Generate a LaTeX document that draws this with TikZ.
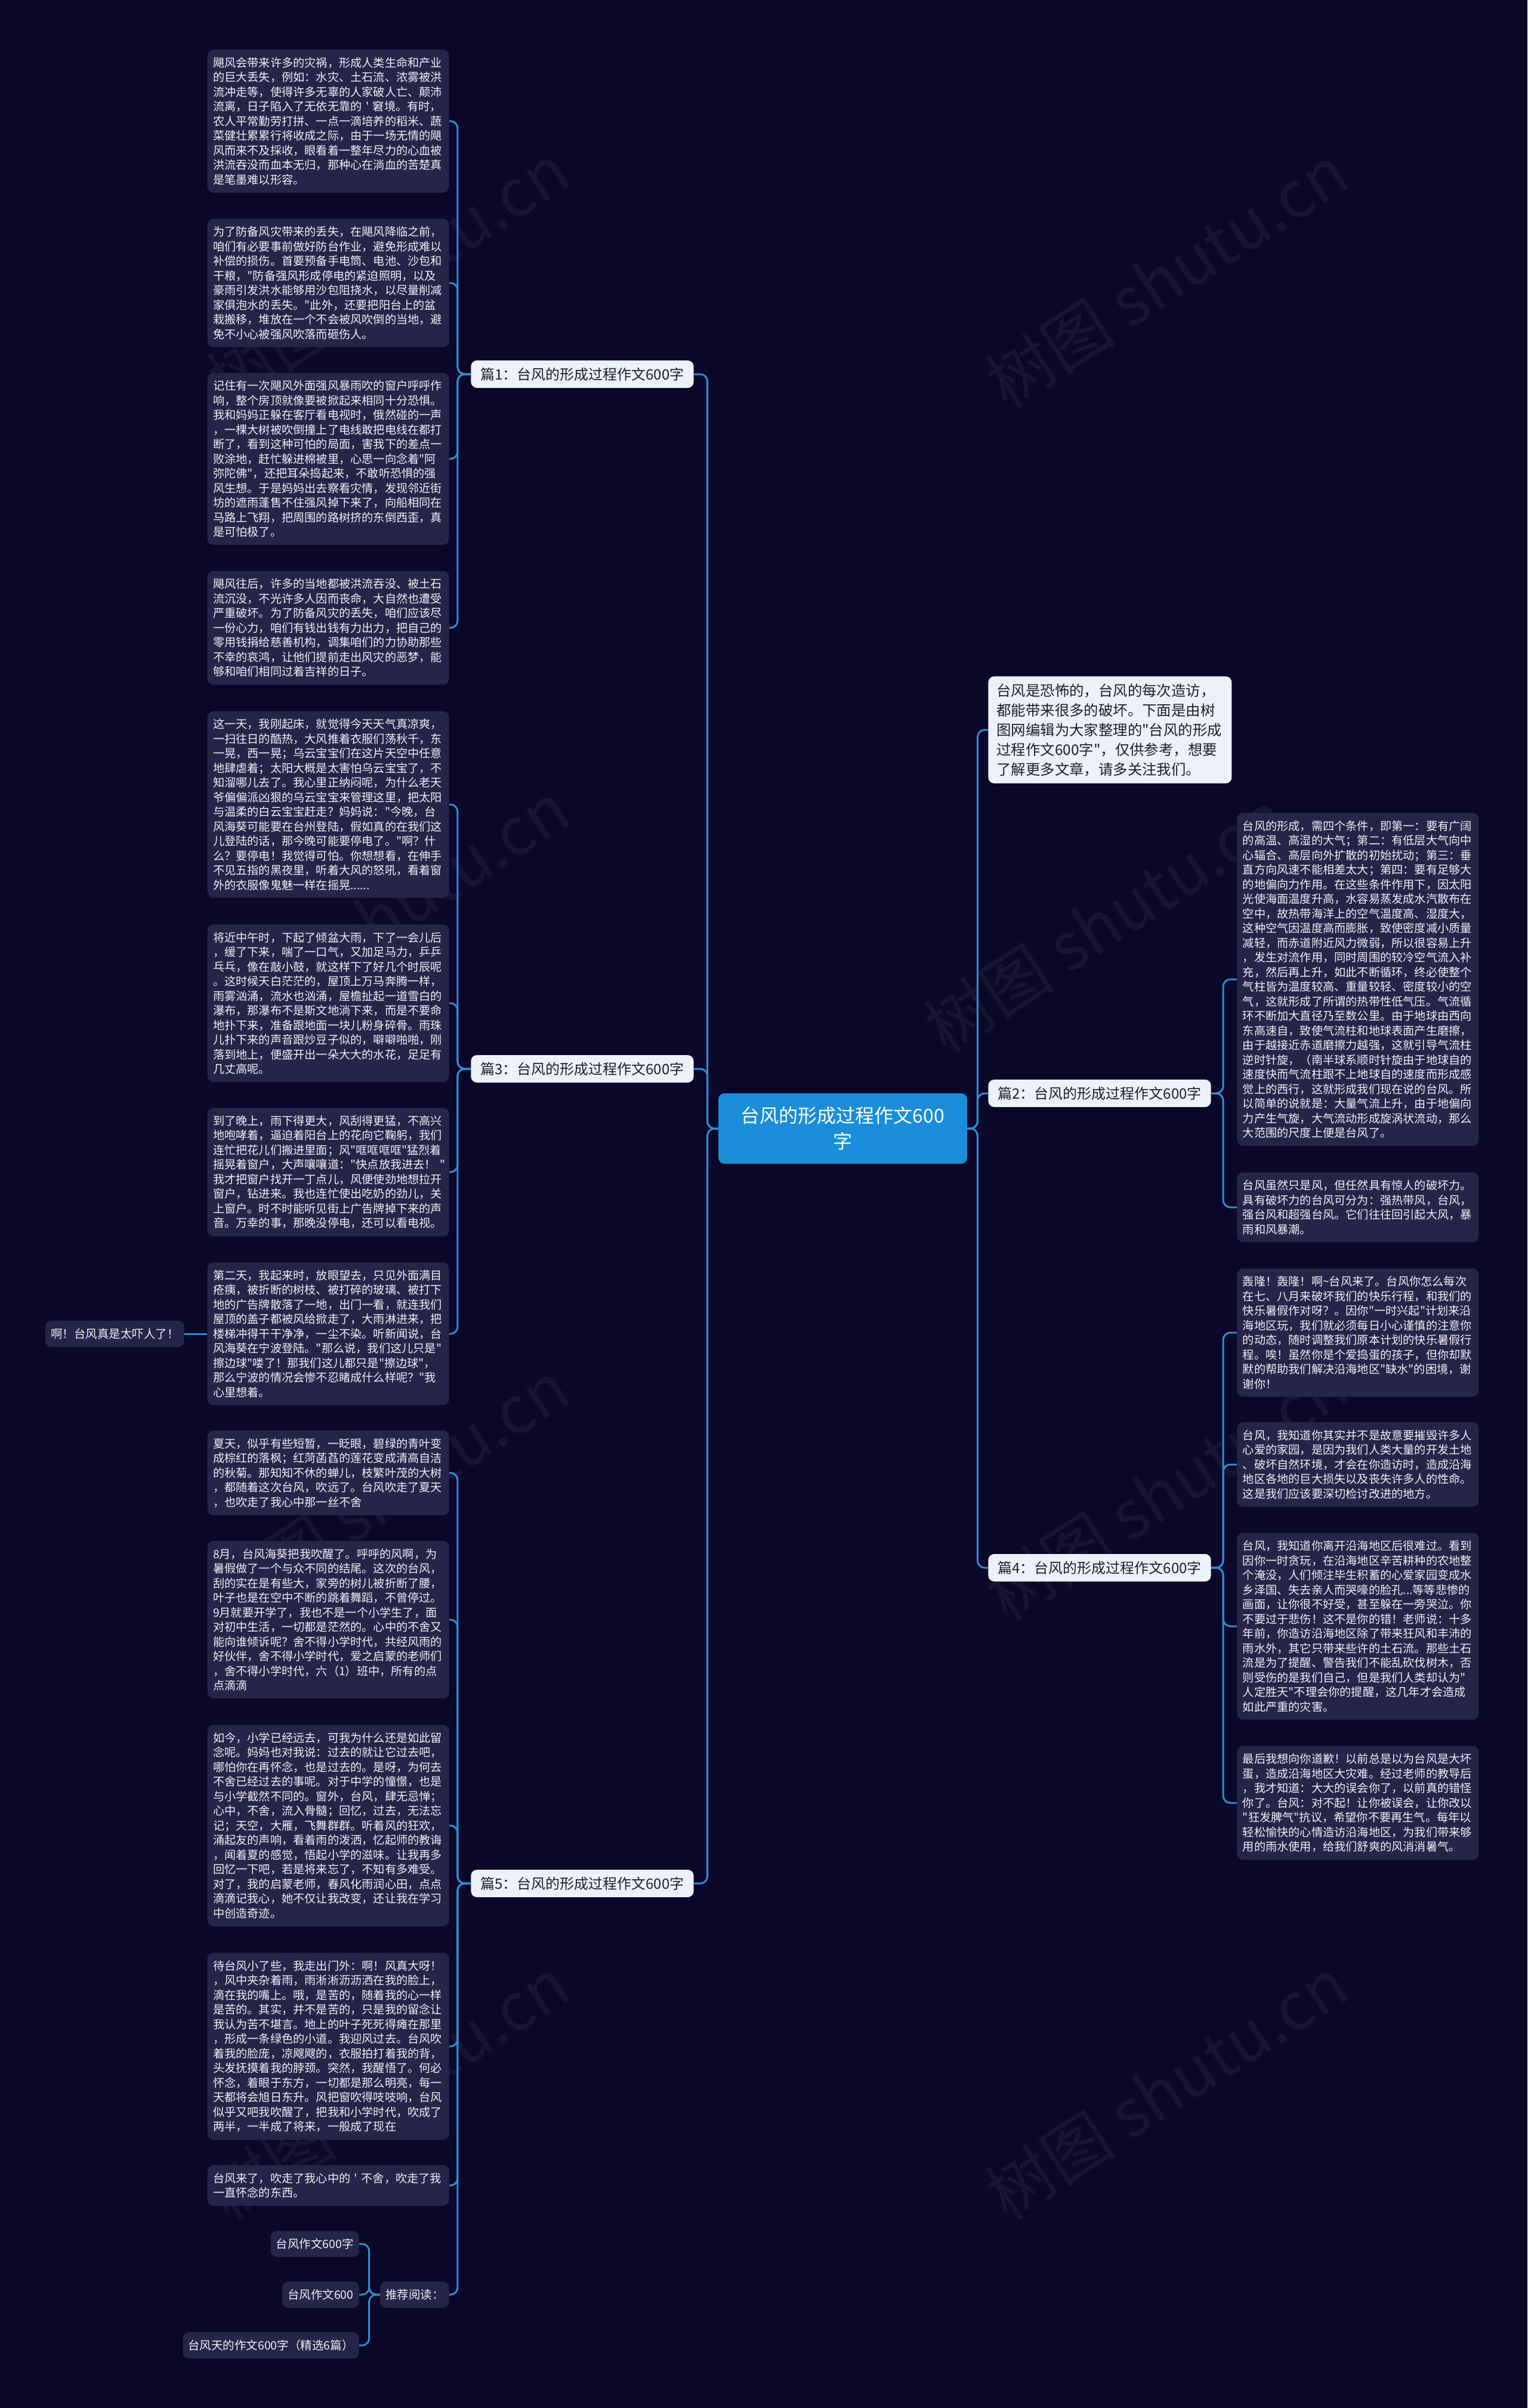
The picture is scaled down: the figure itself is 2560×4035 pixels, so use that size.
\documentclass[tikz,border=0pt]{standalone}
\usepackage{fontspec}
\setmainfont{Noto Sans CJK SC}[Ligatures=TeXOff]
\definecolor{bg}{HTML}{0A0729}
\definecolor{leaffill}{HTML}{262449}
\definecolor{leaftext}{HTML}{F2F2F7}
\definecolor{linec}{HTML}{2E8DD6}
\definecolor{rootfill}{HTML}{1A8DD8}
\definecolor{lightfill}{HTML}{EDF2FA}
\definecolor{darktext}{HTML}{1E1E2A}
\begin{document}
\begin{tikzpicture}[x=0.5pt,y=-0.5pt,
 leaf/.style={fill=leaffill, text=leaftext, rounded corners=5pt, text width=193pt, align=left, inner xsep=4.75pt, inner ysep=6.4pt, font=\fontsize{9.6pt}{12.25pt}\selectfont},
 small/.style={fill=leaffill, text=leaftext, rounded corners=5pt, inner xsep=4.5pt, minimum height=22pt, font=\fontsize{9.75pt}{12pt}\selectfont},
 lvl1/.style={fill=lightfill, text=darktext, rounded corners=5pt, inner xsep=8pt, minimum height=23pt, font=\fontsize{12pt}{15pt}\selectfont},
 intro/.style={fill=lightfill, text=darktext, rounded corners=5pt, text width=190pt, align=left, inner xsep=7pt, inner ysep=6pt, font=\fontsize{12.2pt}{16.5pt}\selectfont},
 rootn/.style={fill=rootfill, text=white, rounded corners=5pt, minimum width=208.5pt, minimum height=59pt, align=center, font=\fontsize{16pt}{21.5pt}\selectfont},
 conn/.style={draw=linec, line width=1.5pt, rounded corners=6pt},
 wm/.style={text=white, opacity=0.05, rotate=33, font=\fontsize{55pt}{55pt}\selectfont}
]
\fill[bg] (0,0) rectangle (2560,4035);
\useasboundingbox (0,0) rectangle (2560,4035);

% watermarks
\foreach \wx/\wy in {650/460, 1955/463, 650/1530, 1852/1544, 650/2500, 1955/2496, 650/3500, 1955/3499}
  \node[wm] at (\wx,\wy) {树图 shutu.cn};

% root
\node[rootn] (root) at (1412.5,1891) {台风的形成过程作文600\\字};

% level 1
\node[lvl1, anchor=east] (p1) at (1163,627) {篇1：台风的形成过程作文600字};
\node[lvl1, anchor=east] (p3) at (1163,1791) {篇3：台风的形成过程作文600字};
\node[lvl1, anchor=east] (p5) at (1163,3156) {篇5：台风的形成过程作文600字};
\node[intro, anchor=west] (intro) at (1656,1223) {台风是恐怖的，台风的每次造访，\\都能带来很多的破坏。下面是由树\\图网编辑为大家整理的"台风的形成\\过程作文600字"，仅供参考，想要\\了解更多文章，请多关注我们。};
\node[lvl1, anchor=west] (p2) at (1656,1832) {篇2：台风的形成过程作文600字};
\node[lvl1, anchor=west] (p4) at (1656,2627) {篇4：台风的形成过程作文600字};

% left leaves
\node[leaf, anchor=east] (l1) at (753,203) {飓风会带来许多的灾祸，形成人类生命和产业\\的巨大丢失，例如：水灾、土石流、浓雾被洪\\流冲走等，使得许多无辜的人家破人亡、颠沛\\流离，日子陷入了无依无靠的~'~窘境。有时，\\农人平常勤劳打拼、一点一滴培养的稻米、蔬\\菜健壮累累行将收成之际，由于一场无情的飓\\风而来不及採收，眼看着一整年尽力的心血被\\洪流吞没而血本无归，那种心在淌血的苦楚真\\是笔墨难以形容。};
\node[leaf, anchor=east] (l2) at (753,474) {为了防备风灾带来的丢失，在飓风降临之前，\\咱们有必要事前做好防台作业，避免形成难以\\补偿的损伤。首要预备手电筒、电池、沙包和\\干粮，"防备强风形成停电的紧迫照明，以及\\豪雨引发洪水能够用沙包阻挠水，以尽量削减\\家俱泡水的丢失。"此外，还要把阳台上的盆\\栽搬移，堆放在一个不会被风吹倒的当地，避\\免不小心被强风吹落而砸伤人。};
\node[leaf, anchor=east] (l3) at (753,769) {记住有一次飓风外面强风暴雨吹的窗户呼呼作\\响，整个房顶就像要被掀起来相同十分恐惧。\\我和妈妈正躲在客厅看电视时，俄然碰的一声\\，一棵大树被吹倒撞上了电线敢把电线在都打\\断了，看到这种可怕的局面，害我下的差点一\\败涂地，赶忙躲进棉被里，心思一向念着"阿\\弥陀佛"，还把耳朵捣起来，不敢听恐惧的强\\风生想。于是妈妈出去察看灾情，发现邻近街\\坊的遮雨蓬售不住强风掉下来了，向船相同在\\马路上飞翔，把周围的路树挤的东倒西歪，真\\是可怕极了。};
\node[leaf, anchor=east] (l4) at (753,1052) {飓风往后，许多的当地都被洪流吞没、被土石\\流沉没，不光许多人因而丧命，大自然也遭受\\严重破坏。为了防备风灾的丢失，咱们应该尽\\一份心力，咱们有钱出钱有力出力，把自己的\\零用钱捐给慈善机构，调集咱们的力协助那些\\不幸的哀鸿，让他们提前走出风灾的恶梦，能\\够和咱们相同过着吉祥的日子。};
\node[leaf, anchor=east] (l5) at (753,1348) {这一天，我刚起床，就觉得今天天气真凉爽，\\一扫往日的酷热，大风推着衣服们荡秋千，东\\一晃，西一晃；乌云宝宝们在这片天空中任意\\地肆虐着；太阳大概是太害怕乌云宝宝了，不\\知溜哪儿去了。我心里正纳闷呢，为什么老天\\爷偏偏派凶狠的乌云宝宝来管理这里，把太阳\\与温柔的白云宝宝赶走？妈妈说："今晚，台\\风海葵可能要在台州登陆，假如真的在我们这\\儿登陆的话，那今晚可能要停电了。"啊？什\\么？要停电！我觉得可怕。你想想看，在伸手\\不见五指的黑夜里，听着大风的怒吼，看着窗\\外的衣服像鬼魅一样在摇晃......};
\node[leaf, anchor=east] (l6) at (753,1681) {将近中午时，下起了倾盆大雨，下了一会儿后\\，缓了下来，喘了一口气，又加足马力，乒乒\\乓乓，像在敲小鼓，就这样下了好几个时辰呢\\。这时候天白茫茫的，屋顶上万马奔腾一样，\\雨雾汹涌，流水也汹涌，屋檐扯起一道雪白的\\瀑布，那瀑布不是斯文地淌下来，而是不要命\\地扑下来，准备跟地面一块儿粉身碎骨。雨珠\\儿扑下来的声音跟炒豆子似的，噼噼啪啪，刚\\落到地上，便盛开出一朵大大的水花，足足有\\几丈高呢。};
\node[leaf, anchor=east] (l7) at (753,1964) {到了晚上，雨下得更大，风刮得更猛，不高兴\\地咆哮着，逼迫着阳台上的花向它鞠躬，我们\\连忙把花儿们搬进里面；风"哐哐哐哐"猛烈着\\摇晃着窗户，大声嚷嚷道："快点放我进去！~"\\我才把窗户找开一丁点儿，风便使劲地想拉开\\窗户，钻进来。我也连忙使出吃奶的劲儿，关\\上窗户。时不时能听见街上广告牌掉下来的声\\音。万幸的事，那晚没停电，还可以看电视。};
\node[leaf, anchor=east] (l8) at (753,2235) {第二天，我起来时，放眼望去，只见外面满目\\疮痍，被折断的树枝、被打碎的玻璃、被打下\\地的广告牌散落了一地，出门一看，就连我们\\屋顶的盖子都被风给掀走了，大雨淋进来，把\\楼梯冲得干干净净，一尘不染。听新闻说，台\\风海葵在宁波登陆。"那么说，我们这儿只是"\\擦边球"喽了！那我们这儿都只是"擦边球"，\\那么宁波的情况会惨不忍睹成什么样呢？"我\\心里想着。};
\node[small, anchor=east] (ah) at (309,2235) {啊！台风真是太吓人了！};
\node[leaf, anchor=east] (l9) at (753,2468) {夏天，似乎有些短暂，一眨眼，碧绿的青叶变\\成棕红的落枫；红菏菡萏的莲花变成清高自洁\\的秋菊。那知知不休的蝉儿，枝繁叶茂的大树\\，都随着这次台风，吹远了。台风吹走了夏天\\，也吹走了我心中那一丝不舍};
\node[leaf, anchor=east] (l10) at (753,2714) {8月，台风海葵把我吹醒了。呼呼的风啊，为\\暑假做了一个与众不同的结尾。这次的台风，\\刮的实在是有些大，家旁的树儿被折断了腰，\\叶子也是在空中不断的跳着舞蹈，不曾停过。\\9月就要开学了，我也不是一个小学生了，面\\对初中生活，一切都是茫然的。心中的不舍又\\能向谁倾诉呢？舍不得小学时代，共经风雨的\\好伙伴，舍不得小学时代，爱之启蒙的老师们\\，舍不得小学时代，六（1）班中，所有的点\\点滴滴};
\node[leaf, anchor=east] (l11) at (753,3059) {如今，小学已经远去，可我为什么还是如此留\\念呢。妈妈也对我说：过去的就让它过去吧，\\哪怕你在再怀念，也是过去的。是呀，为何去\\不舍已经过去的事呢。对于中学的憧憬，也是\\与小学截然不同的。窗外，台风，肆无忌惮；\\心中，不舍，流入骨髓；回忆，过去，无法忘\\记；天空，大雁，飞舞群群。听着风的狂欢，\\涌起友的声响，看着雨的泼洒，忆起师的教诲\\，闻着夏的感觉，悟起小学的滋味。让我再多\\回忆一下吧，若是将来忘了，不知有多难受。\\对了，我的启蒙老师，春风化雨润心田，点点\\滴滴记我心，她不仅让我改变，还让我在学习\\中创造奇迹。};
\node[leaf, anchor=east] (l12) at (753,3429) {待台风小了些，我走出门外：啊！风真大呀！\\，风中夹杂着雨，雨淅淅沥沥洒在我的脸上，\\滴在我的嘴上。哦，是苦的，随着我的心一样\\是苦的。其实，并不是苦的，只是我的留念让\\我认为苦不堪言。地上的叶子死死得瘫在那里\\，形成一条绿色的小道。我迎风过去。台风吹\\着我的脸庞，凉飕飕的，衣服拍打着我的背，\\头发抚摸着我的脖颈。突然，我醒悟了。何必\\怀念，着眼于东方，一切都是那么明亮，每一\\天都将会旭日东升。风把窗吹得吱吱响，台风\\似乎又吧我吹醒了，把我和小学时代，吹成了\\两半，一半成了将来，一般成了现在};
\node[leaf, anchor=east] (l13) at (753,3662) {台风来了，吹走了我心中的~'~不舍，吹走了我\\一直怀念的东西。};
\node[small, anchor=east] (rec) at (753,3845) {推荐阅读：};
\node[small, anchor=east] (rc1) at (602,3760) {台风作文600字};
\node[small, anchor=east] (rc2) at (602,3845) {台风作文600};
\node[small, anchor=east] (rc3) at (602,3930) {台风天的作文600字（精选6篇）};

% right leaves
\node[leaf, anchor=west] (r1) at (2073,1641) {台风的形成，需四个条件，即第一：要有广阔\\的高温、高湿的大气；第二：有低层大气向中\\心辐合、高层向外扩散的初始扰动；第三：垂\\直方向风速不能相差太大；第四：要有足够大\\的地偏向力作用。在这些条件作用下，因太阳\\光使海面温度升高，水容易蒸发成水汽散布在\\空中，故热带海洋上的空气温度高、湿度大，\\这种空气因温度高而膨胀，致使密度减小质量\\减轻，而赤道附近风力微弱，所以很容易上升\\，发生对流作用，同时周围的较冷空气流入补\\充，然后再上升，如此不断循环，终必使整个\\气柱皆为温度较高、重量较轻、密度较小的空\\气，这就形成了所谓的热带性低气压。气流循\\环不断加大直径乃至数公里。由于地球由西向\\东高速自，致使气流柱和地球表面产生磨擦，\\由于越接近赤道磨擦力越强，这就引导气流柱\\逆时针旋，（南半球系顺时针旋由于地球自的\\速度快而气流柱跟不上地球自的速度而形成感\\觉上的西行，这就形成我们现在说的台风。所\\以简单的说就是：大量气流上升，由于地偏向\\力产生气旋，大气流动形成旋涡状流动，那么\\大范围的尺度上便是台风了。};
\node[leaf, anchor=west] (r2) at (2073,2023) {台风虽然只是风，但任然具有惊人的破坏力。\\具有破坏力的台风可分为：强热带风，台风，\\强台风和超强台风。它们往往回引起大风，暴\\雨和风暴潮。};
\node[leaf, anchor=west] (r3) at (2073,2233) {轰隆！轰隆！啊\textasciitilde 台风来了。台风你怎么每次\\在七、八月来破坏我们的快乐行程，和我们的\\快乐暑假作对呀？。因你"一时兴起"计划来沿\\海地区玩，我们就必须每日小心谨慎的注意你\\的动态，随时调整我们原本计划的快乐暑假行\\程。唉！虽然你是个爱捣蛋的孩子，但你却默\\默的帮助我们解决沿海地区"缺水"的困境，谢\\谢你！};
\node[leaf, anchor=west] (r4) at (2073,2454) {台风，我知道你其实并不是故意要摧毁许多人\\心爱的家园，是因为我们人类大量的开发土地\\、破坏自然环境，才会在你造访时，造成沿海\\地区各地的巨大损失以及丧失许多人的性命。\\这是我们应该要深切检讨改进的地方。};
\node[leaf, anchor=west] (r5) at (2073,2725) {台风，我知道你离开沿海地区后很难过。看到\\因你一时贪玩，在沿海地区辛苦耕种的农地整\\个淹没，人们倾注毕生积蓄的心爱家园变成水\\乡泽国、失去亲人而哭嚎的脸孔...等等悲惨的\\画面，让你很不好受，甚至躲在一旁哭泣。你\\不要过于悲伤！这不是你的错！老师说：十多\\年前，你造访沿海地区除了带来狂风和丰沛的\\雨水外，其它只带来些许的土石流。那些土石\\流是为了提醒、警告我们不能乱砍伐树木，否\\则受伤的是我们自己，但是我们人类却认为"\\人定胜天"不理会你的提醒，这几年才会造成\\如此严重的灾害。};
\node[leaf, anchor=west] (r6) at (2073,3021) {最后我想向你道歉！以前总是以为台风是大坏\\蛋，造成沿海地区大灾难。经过老师的教导后\\，我才知道：大大的误会你了，以前真的错怪\\你了。台风：对不起！让你被误会，让你改以\\"狂发脾气"抗议，希望你不要再生气。每年以\\轻松愉快的心情造访沿海地区，为我们带来够\\用的雨水使用，给我们舒爽的风消消暑气。};

% connectors
\foreach \c in {p1,p3,p5} \draw[conn] (root.west) -- ++(-18,0) |- (\c.east);
\foreach \c in {intro,p2,p4} \draw[conn] (root.east) -- ++(17,0) |- (\c.west);
\foreach \c in {l1,l2,l3,l4} \draw[conn] (p1.west) -- ++(-22,0) |- (\c.east);
\foreach \c in {l5,l6,l7,l8} \draw[conn] (p3.west) -- ++(-22,0) |- (\c.east);
\foreach \c in {l9,l10,l11,l12,l13,rec} \draw[conn] (p5.west) -- ++(-22,0) |- (\c.east);
\foreach \c in {rc1,rc2,rc3} \draw[conn] (rec.west) -- ++(-18,0) |- (\c.east);
\draw[conn] (l8.west) -- (ah.east);
\foreach \c in {r1,r2} \draw[conn] (p2.east) -- ++(20,0) |- (\c.west);
\foreach \c in {r3,r4,r5,r6} \draw[conn] (p4.east) -- ++(20,0) |- (\c.west);
\end{tikzpicture}
\end{document}
